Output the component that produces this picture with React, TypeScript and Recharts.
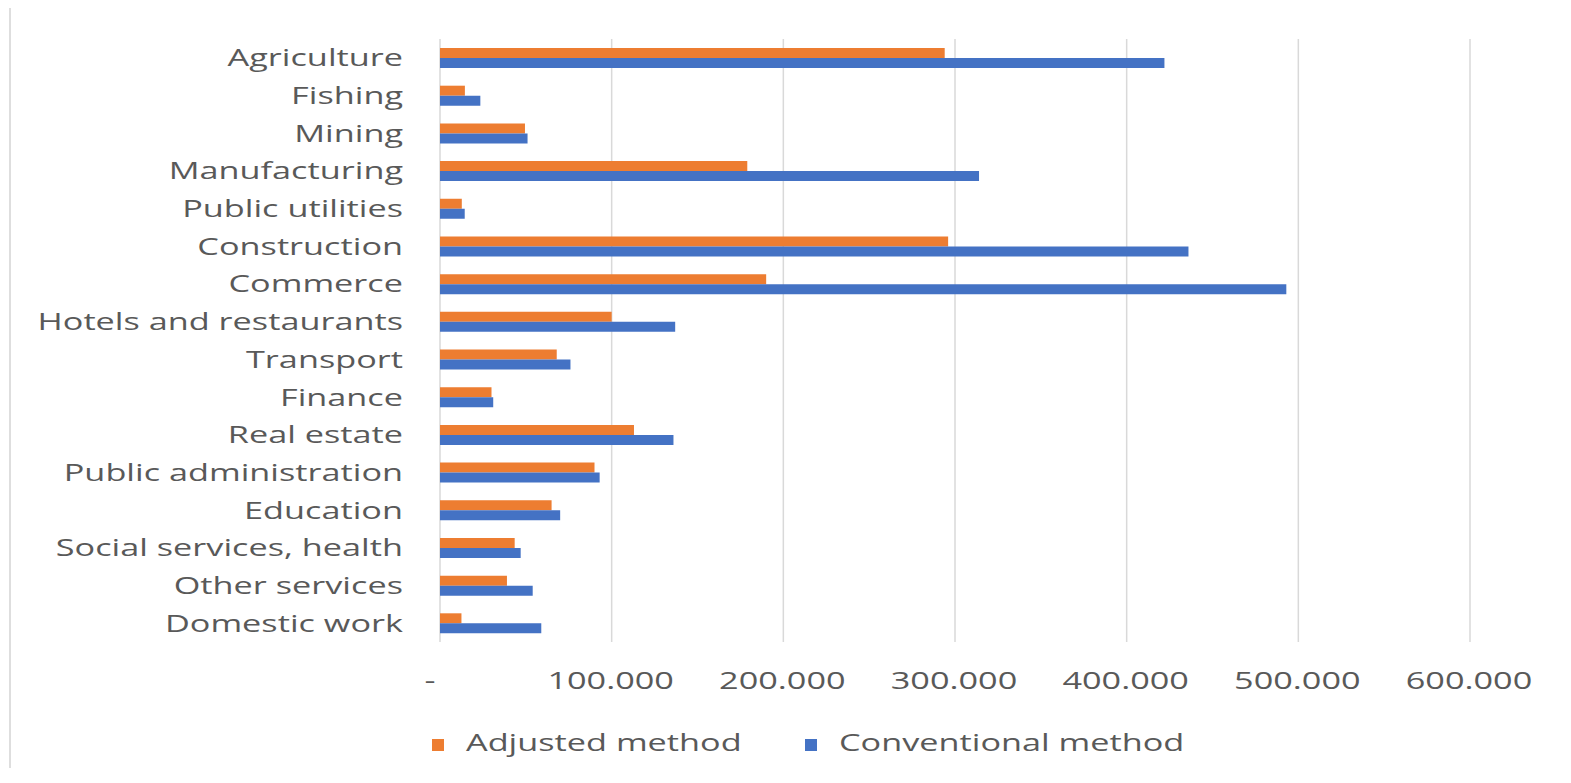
import React from "react";
import {
  Bar,
  BarChart,
  CartesianGrid,
  Legend,
  XAxis,
  YAxis,
} from "recharts";

const sectors = [
  "Agriculture",
  "Fishing",
  "Mining",
  "Manufacturing",
  "Public utilities",
  "Construction",
  "Commerce",
  "Hotels and restaurants",
  "Transport",
  "Finance",
  "Real estate",
  "Public administration",
  "Education",
  "Social services, health",
  "Other services",
  "Domestic work",
];

const adjusted = [
  294000, 14500, 49500, 179000, 12700, 296000, 190000, 100000, 68000, 30000,
  113000, 90000, 65000, 43500, 39000, 12500,
];

const conventional = [
  422000, 23500, 51000, 314000, 14400, 436000, 493000, 137000, 76000, 31000,
  136000, 93000, 70000, 47000, 54000, 59000,
];

const xTicks = [0, 100000, 200000, 300000, 400000, 500000, 600000];

const chartData = sectors.map((name, i) => ({
  name,
  adjusted: adjusted[i],
  conventional: conventional[i],
}));

const FONT = "'Open Sans', sans-serif";
const TEXT = "#595959";
const STRETCH = 1.49;

// thousands separated with dots, zero shown as a dash
const formatValue = (v: number) => {
  if (v === 0) return "-";
  const s = String(Math.round(v));
  return s.replace(/\B(?=(\d{3})+(?!\d))/g, ".");
};

const CategoryTick = (props: any) => {
  const { x, y, payload } = props;
  return (
    <text
      transform={`translate(${x},${y + 8.5}) scale(${STRETCH},1)`}
      textAnchor="end"
      fontFamily={FONT}
      fontSize={23}
      fill={TEXT}
    >
      {payload.value}
    </text>
  );
};

const ValueTick = (props: any) => {
  const { x, y, payload } = props;
  const shift = payload.value === 0 ? -10 : -1;
  return (
    <text
      transform={`translate(${x + shift},${y}) scale(${STRETCH},1)`}
      textAnchor="middle"
      fontFamily={FONT}
      fontSize={23}
      fill={TEXT}
    >
      {formatValue(payload.value)}
    </text>
  );
};

const LegendRow = (props: any) => {
  const items = props.payload || [];
  return (
    <svg width={1558} height={40}>
      {items.map((item: any, i: number) => {
        const left = 421 + i * 373;
        return (
          <g key={item.value}>
            <rect x={left} y={11} width={12} height={12} fill={item.color} />
            <text
              transform={`translate(${left + 34},23) scale(${STRETCH},1)`}
              fontFamily={FONT}
              fontSize={23}
              fill={TEXT}
            >
              {item.value}
            </text>
          </g>
        );
      })}
    </svg>
  );
};

export default function App() {
  return (
    <div
      style={{
        marginTop: -2,
        marginLeft: 1,
        borderTop: "2px solid #dedede",
        borderLeft: "2px solid #dedede",
        width: 1558,
        height: 760,
        background: "#fff",
      }}
    >
      <BarChart
        width={1558}
        height={760}
        data={chartData}
        layout="vertical"
        margin={{ top: 31, right: 99, bottom: 66, left: 0 }}
        barSize={10}
        barGap={0}
      >
        <CartesianGrid horizontal={false} stroke="#d9d9d9" strokeWidth={1.5} />
        <XAxis
          type="number"
          domain={[0, 600000]}
          ticks={xTicks}
          axisLine={false}
          tickLine={false}
          tickSize={0}
          tickMargin={47}
          height={60}
          tick={<ValueTick />}
          interval={0}
        />
        <YAxis
          type="category"
          dataKey="name"
          width={429}
          axisLine={false}
          tickLine={false}
          tickSize={0}
          tickMargin={37}
          tick={<CategoryTick />}
          interval={0}
        />
        <Legend
          layout="horizontal"
          verticalAlign="middle"
          align="center"
          wrapperStyle={{ top: 720, left: 0, width: 1558, height: 40 }}
          content={<LegendRow />}
        />
        <Bar
          dataKey="adjusted"
          name="Adjusted method"
          fill="#ED7D31"
          isAnimationActive={false}
        />
        <Bar
          dataKey="conventional"
          name="Conventional method"
          fill="#4472C4"
          isAnimationActive={false}
        />
      </BarChart>
    </div>
  );
}
